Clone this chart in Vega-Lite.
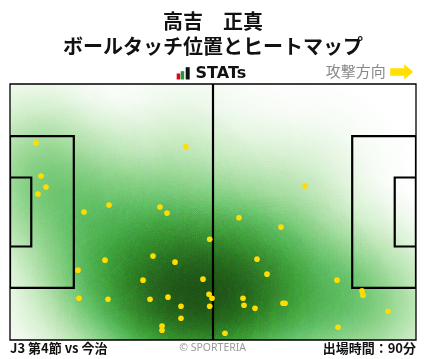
{
  "$schema": "https://vega.github.io/schema/vega-lite/v6.json",
  "width": 406,
  "height": 256,
  "autosize": "none",
  "padding": {"left": 10, "top": 84, "right": 12, "bottom": 19},
  "background": "white",
  "config": {"view": {"stroke": null}, "axis": {"disable": true}},
  "title": {
    "text": ["高吉　正真", "ボールタッチ位置とヒートマップ"],
    "font": "Noto Sans CJK JP",
    "fontSize": 20,
    "fontWeight": "bold",
    "lineHeight": 25,
    "anchor": "middle",
    "frame": "group",
    "offset": -25,
    "color": "#111111"
  },
  "datasets": {
    "pts": [
      {"x": 6.72, "y": 15.65}, {"x": 45.52, "y": 16.71}, {"x": 8.02, "y": 24.43}, {"x": 9.31, "y": 27.36},
      {"x": 7.24, "y": 29.22}, {"x": 19.14, "y": 34.01}, {"x": 25.6, "y": 32.15}, {"x": 38.79, "y": 32.68},
      {"x": 40.6, "y": 34.28}, {"x": 76.29, "y": 27.09}, {"x": 59.22, "y": 35.53}, {"x": 51.65, "y": 41.25},
      {"x": 24.57, "y": 46.79}, {"x": 36.98, "y": 45.72}, {"x": 42.67, "y": 47.32}, {"x": 17.59, "y": 49.45},
      {"x": 34.4, "y": 52.11}, {"x": 49.91, "y": 51.84}, {"x": 17.84, "y": 56.9}, {"x": 25.34, "y": 57.17},
      {"x": 36.21, "y": 57.17}, {"x": 40.86, "y": 56.63}, {"x": 44.22, "y": 59.03}, {"x": 51.47, "y": 55.84},
      {"x": 52.24, "y": 56.9}, {"x": 51.65, "y": 59.03}, {"x": 44.22, "y": 62.22}, {"x": 39.31, "y": 64.27},
      {"x": 39.31, "y": 65.42}, {"x": 70.09, "y": 38.0}, {"x": 63.88, "y": 46.52}, {"x": 66.47, "y": 50.51},
      {"x": 84.57, "y": 52.11}, {"x": 91.03, "y": 54.96}, {"x": 91.29, "y": 56.1}, {"x": 97.76, "y": 60.36},
      {"x": 60.26, "y": 56.9}, {"x": 60.52, "y": 58.76}, {"x": 63.36, "y": 59.56}, {"x": 70.6, "y": 58.23},
      {"x": 71.12, "y": 58.23}, {"x": 84.83, "y": 64.62}, {"x": 55.6, "y": 66.21}
    ],
    "boxes": [
      {"x1": 0, "x2": 16.5, "y1": 13.84, "y2": 54.16},
      {"x1": 0, "x2": 5.5, "y1": 24.84, "y2": 43.16},
      {"x1": 88.5, "x2": 105, "y1": 13.84, "y2": 54.16},
      {"x1": 99.5, "x2": 105, "y1": 24.84, "y2": 43.16}
    ],
    "bars": [
      {"x1": 43.11, "x2": 44.02, "y1": -2.79, "y2": -1.2, "c": "r"},
      {"x1": 44.15, "x2": 45.05, "y1": -3.41, "y2": -1.2, "c": "g"},
      {"x1": 45.44, "x2": 46.47, "y1": -4.47, "y2": -1.2, "c": "k"}
    ]
  },
  "layer": [
    {
      "data": {"name": "pts"},
      "mark": {
        "type": "point", "filled": true, "shape": "circle", "size": 48400, "opacity": 1, "clip": true, "strokeWidth": 0,
        "color": {"gradient": "radial", "x1": 0.5, "y1": 0.5, "r1": 0, "x2": 0.5, "y2": 0.5, "r2": 0.5,
          "stops": [
            {"offset": 0, "color": "rgba(104,200,74,0.2)"},
            {"offset": 0.2, "color": "rgba(104,200,74,0.176)"},
            {"offset": 0.4, "color": "rgba(104,200,74,0.121)"},
            {"offset": 0.6, "color": "rgba(104,200,74,0.065)"},
            {"offset": 0.8, "color": "rgba(104,200,74,0.027)"},
            {"offset": 1, "color": "rgba(104,200,74,0)"}
          ]}
      },
      "encoding": {
        "x": {"field": "x", "type": "quantitative", "scale": {"domain": [0, 105], "nice": false, "zero": false}, "axis": null},
        "y": {"field": "y", "type": "quantitative", "scale": {"domain": [0, 68], "nice": false, "zero": false, "reverse": true}, "axis": null}
      }
    },
    {
      "data": {"name": "pts"},
      "mark": {
        "type": "point", "filled": true, "shape": "circle", "size": 48400, "opacity": 1, "strokeWidth": 0, "blend": "color-burn",
        "color": {"gradient": "radial", "x1": 0.5, "y1": 0.5, "r1": 0, "x2": 0.5, "y2": 0.5, "r2": 0.5,
          "stops": [
            {"offset": 0, "color": "rgba(136,124,180,0.097)"},
            {"offset": 0.2, "color": "rgba(136,124,180,0.0855)"},
            {"offset": 0.4, "color": "rgba(136,124,180,0.0589)"},
            {"offset": 0.6, "color": "rgba(136,124,180,0.0315)"},
            {"offset": 0.8, "color": "rgba(136,124,180,0.0131)"},
            {"offset": 1, "color": "rgba(136,124,180,0)"}
          ]}
      },
      "encoding": {
        "x": {"field": "x", "type": "quantitative", "axis": null},
        "y": {"field": "y", "type": "quantitative", "axis": null}
      }
    },
    {
      "data": {"name": "boxes"},
      "mark": {"type": "rect", "fill": null, "stroke": "#000000", "strokeWidth": 2.2, "clip": true},
      "encoding": {
        "x": {"field": "x1", "type": "quantitative", "axis": null},
        "x2": {"field": "x2"},
        "y": {"field": "y1", "type": "quantitative", "axis": null},
        "y2": {"field": "y2"}
      }
    },
    {
      "data": {"values": [{}]},
      "mark": {"type": "rule", "color": "#000000", "strokeWidth": 2.2},
      "encoding": {
        "x": {"datum": 52.5, "type": "quantitative", "axis": null},
        "y": {"datum": 0, "type": "quantitative", "axis": null},
        "y2": {"datum": 68}
      }
    },
    {
      "data": {"values": [{}]},
      "mark": {"type": "rect", "fill": null, "stroke": "#000000", "strokeWidth": 1.3},
      "encoding": {
        "x": {"datum": 0, "type": "quantitative", "axis": null},
        "x2": {"datum": 105},
        "y": {"datum": 0, "type": "quantitative", "axis": null},
        "y2": {"datum": 68}
      }
    },
    {
      "data": {"name": "pts"},
      "mark": {"type": "point", "filled": true, "shape": "circle", "size": 32, "color": "#FFDD00", "opacity": 1, "strokeWidth": 0},
      "encoding": {
        "x": {"field": "x", "type": "quantitative", "axis": null},
        "y": {"field": "y", "type": "quantitative", "axis": null}
      }
    },
    {
      "data": {"name": "bars"},
      "mark": {"type": "rect", "clip": false},
      "encoding": {
        "x": {"field": "x1", "type": "quantitative", "axis": null},
        "x2": {"field": "x2"},
        "y": {"field": "y1", "type": "quantitative", "axis": null},
        "y2": {"field": "y2"},
        "color": {"field": "c", "type": "nominal", "scale": {"domain": ["r", "g", "k"], "range": ["#e60012", "#1e9a3c", "#111111"]}, "legend": null}
      }
    },
    {
      "data": {"values": [{"t": "STATs"}]},
      "mark": {"type": "text", "font": "DejaVu Sans", "fontSize": 16, "fontWeight": "bold", "align": "left", "baseline": "middle", "color": "#111111"},
      "encoding": {
        "text": {"field": "t"},
        "x": {"datum": 48.0, "type": "quantitative", "axis": null},
        "y": {"datum": -2.85, "type": "quantitative", "axis": null}
      }
    },
    {
      "data": {"values": [{"t": "攻撃方向"}]},
      "mark": {"type": "text", "font": "Noto Sans CJK JP", "fontSize": 15, "align": "right", "baseline": "middle", "color": "#888888"},
      "encoding": {
        "text": {"field": "t"},
        "x": {"datum": 97.2, "type": "quantitative", "axis": null},
        "y": {"datum": -3.3, "type": "quantitative", "axis": null}
      }
    },
    {
      "data": {"values": [{}]},
      "mark": {"type": "point", "filled": true, "shape": "M-1,-0.32L0.22,-0.32L0.22,-0.66L1,0L0.22,0.66L0.22,0.32L-1,0.32Z", "size": 529, "color": "#FFE000", "opacity": 1, "strokeWidth": 0},
      "encoding": {
        "x": {"datum": 101.3, "type": "quantitative", "axis": null},
        "y": {"datum": -3.2, "type": "quantitative", "axis": null}
      }
    },
    {
      "data": {"values": [{"t": "J3 第4節 vs 今治"}]},
      "mark": {"type": "text", "font": "Noto Sans CJK JP", "fontSize": 13, "fontWeight": "bold", "align": "left", "baseline": "middle", "color": "#111111"},
      "encoding": {
        "text": {"field": "t"},
        "x": {"datum": 0, "type": "quantitative", "axis": null},
        "y": {"datum": 70.4, "type": "quantitative", "axis": null}
      }
    },
    {
      "data": {"values": [{"t": "© SPORTERIA"}]},
      "mark": {"type": "text", "font": "Noto Sans", "fontSize": 10.5, "align": "center", "baseline": "middle", "color": "#999999"},
      "encoding": {
        "text": {"field": "t"},
        "x": {"datum": 52.4, "type": "quantitative", "axis": null},
        "y": {"datum": 70.2, "type": "quantitative", "axis": null}
      }
    },
    {
      "data": {"values": [{"t": "出場時間：90分"}]},
      "mark": {"type": "text", "font": "Noto Sans CJK JP", "fontSize": 13, "fontWeight": "bold", "align": "right", "baseline": "middle", "color": "#111111"},
      "encoding": {
        "text": {"field": "t"},
        "x": {"datum": 105, "type": "quantitative", "axis": null},
        "y": {"datum": 70.4, "type": "quantitative", "axis": null}
      }
    }
  ]
}
